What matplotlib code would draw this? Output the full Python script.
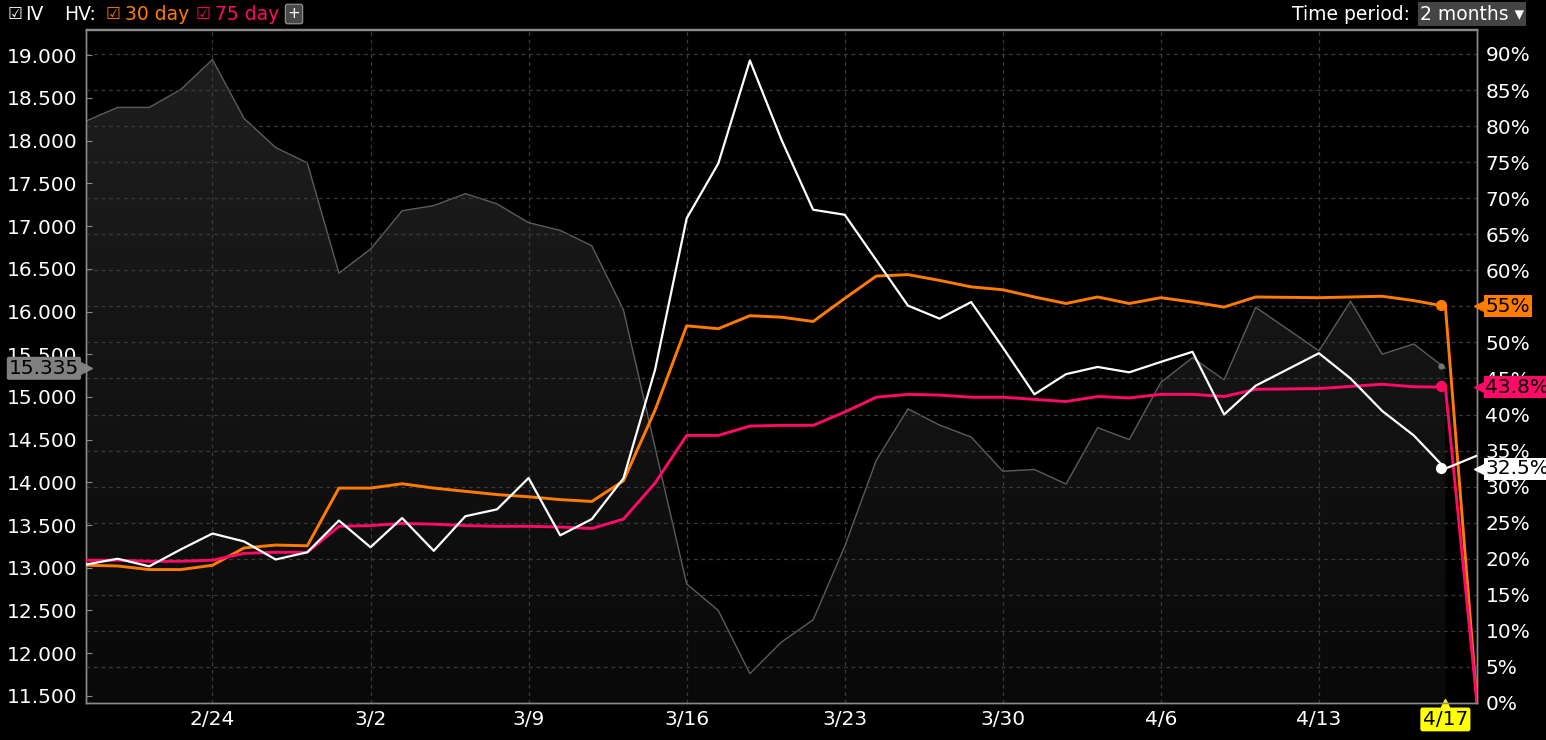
import numpy as np
import matplotlib
matplotlib.use('Agg')
from matplotlib import pyplot as plt
from matplotlib import transforms
from matplotlib.colors import LinearSegmentedColormap

# trading days shown (4/10 holiday missing), last one is the partial 4/20 point
dates = ['2020-02-18', '2020-02-19', '2020-02-20', '2020-02-21',
         '2020-02-24', '2020-02-25', '2020-02-26', '2020-02-27', '2020-02-28',
         '2020-03-02', '2020-03-03', '2020-03-04', '2020-03-05', '2020-03-06',
         '2020-03-09', '2020-03-10', '2020-03-11', '2020-03-12', '2020-03-13',
         '2020-03-16', '2020-03-17', '2020-03-18', '2020-03-19', '2020-03-20',
         '2020-03-23', '2020-03-24', '2020-03-25', '2020-03-26', '2020-03-27',
         '2020-03-30', '2020-03-31', '2020-04-01', '2020-04-02', '2020-04-03',
         '2020-04-06', '2020-04-07', '2020-04-08', '2020-04-09',
         '2020-04-13', '2020-04-14', '2020-04-15', '2020-04-16', '2020-04-17',
         '2020-04-20']

price = [18.23, 18.39, 18.39, 18.60, 18.95, 18.26, 17.92, 17.74, 16.45,
         16.73, 17.18, 17.24, 17.38, 17.26, 17.04, 16.95, 16.77, 16.02, 14.41,
         12.81, 12.50, 11.76, 12.13, 12.39, 13.25, 14.26, 14.86, 14.67, 14.53,
         14.13, 14.15, 13.98, 14.64, 14.50, 15.17, 15.46, 15.20, 16.05,
         15.54, 16.12, 15.50, 15.62, 15.335, np.nan]

iv = [19.2, 20.0, 18.95, 21.3, 23.5, 22.4, 19.9, 20.9, 25.3,
      21.6, 25.65, 21.1, 25.9, 26.85, 31.2, 23.25, 25.5, 31.15, 46.2,
      67.2, 74.8, 89.1, 78.1, 68.4, 67.7, 61.4, 55.1, 53.3, 55.6,
      49.3, 42.8, 45.6, 46.6, 45.85, 47.3, 48.7, 40.0, 44.0,
      48.5, 45.0, 40.5, 37.1, 32.5, 34.3]

hv30 = [19.1, 19.0, 18.5, 18.5, 19.1, 21.5, 21.9, 21.8, 29.8,
        29.8, 30.4, 29.8, 29.35, 28.9, 28.6, 28.2, 27.95, 30.8, 40.6,
        52.3, 51.9, 53.7, 53.5, 52.9, 56.1, 59.2, 59.4, 58.6, 57.7,
        57.3, 56.3, 55.4, 56.3, 55.4, 56.2, 55.6, 54.9, 56.3,
        56.2, 56.3, 56.4, 55.8, 55.0, 0.0]

hv75 = [19.8, 19.8, 19.65, 19.65, 19.8, 20.75, 20.9, 20.9, 24.5,
        24.6, 24.9, 24.8, 24.6, 24.5, 24.5, 24.4, 24.2, 25.5, 30.5,
        37.1, 37.1, 38.4, 38.5, 38.5, 40.35, 42.4, 42.8, 42.7, 42.4,
        42.4, 42.1, 41.8, 42.5, 42.3, 42.8, 42.8, 42.5, 43.5,
        43.6, 43.9, 44.2, 43.85, 43.8, 0.0]

week_ticks = ['2020-02-24', '2020-03-02', '2020-03-09', '2020-03-16',
              '2020-03-23', '2020-03-30', '2020-04-06', '2020-04-13']
week_labels = ['2/24', '3/2', '3/9', '3/16', '3/23', '3/30', '4/6', '4/13']
last_date, last_label = '2020-04-17', '4/17'

orange = '#ff7c00'
pink = '#ff0a66'
grid_c = '#3a3a3a'
spine_c = '#8a8a8a'
fs = 14.5

x = np.busday_count(dates[0], dates)
price = np.array(price)
ok = ~np.isnan(price)

fig = plt.figure(figsize=(15.46, 7.40), dpi=100, facecolor='black')
ax = fig.add_axes([86 / 1546, 1 - 703 / 740, (1477 - 86) / 1546, (703 - 29.5) / 740])
ax.set_facecolor('black')
ax2 = ax.twinx()
ax2.patch.set_visible(False)

ylo, yhi = 11.416, 19.302
xmax = x[-1]

# price area with vertical gradient
poly = ax.fill_between(x[ok], price[ok], ylo, color='none', lw=0)
cmap = LinearSegmentedColormap.from_list('g', ['#090909', '#1f1f1f'])
grad = np.linspace(0, 1, 256).reshape(-1, 1)
img = ax.imshow(grad, cmap=cmap, extent=[0, xmax, ylo, yhi], origin='lower',
                aspect='auto', zorder=1)
img.set_clip_path(poly.get_paths()[0], transform=ax.transData)
ax.plot(x[ok], price[ok], color='#5c5c5c', lw=1, zorder=2)
ax.plot(x[ok][-1] - 0.14, price[ok][-1] + 0.03, 'o', color='#777777', ms=3.5, zorder=3)

ax.set_xlim(0, xmax)
ax.set_ylim(ylo, yhi)
ax.set_yticks(np.arange(11.5, 19.01, 0.5))
ax.set_yticklabels([f'{v:.3f}' for v in np.arange(11.5, 19.01, 0.5)])
ax.tick_params(axis='y', direction='in', length=4, color=spine_c, labelcolor='white',
               labelsize=fs, pad=6)

ax.set_xticks(np.busday_count(dates[0], week_ticks))
ax.set_xticklabels(week_labels)
ax.set_xticks([np.busday_count(dates[0], last_date)], minor=True)
ax.set_xticklabels([last_label], minor=True)
ax.tick_params(axis='x', which='both', length=0, labelcolor='white', labelsize=fs, pad=5)
for t in ax.get_xticklabels(minor=True):
    t.set_color('black')
    t.set_bbox(dict(boxstyle='round,pad=0.12', fc='#ffff00', ec='none'))
ax.plot(np.busday_count(dates[0], last_date), ylo, marker='^', color='#ffff00', ms=6,
        clip_on=False, zorder=6)
ax.grid(True, axis='x', which='major', color=grid_c, ls=(0, (3, 3)), lw=0.9)

# IV / HV lines on the percent axis
ax2.plot(x, hv30, color=orange, lw=2.1, zorder=3)
ax2.plot(x, hv75, color=pink, lw=2.1, zorder=3)
ax2.plot(x, iv, color='white', lw=1.6, zorder=4)
ax2.set_ylim(0, 93.39)
ax2.set_yticks(np.arange(0, 91, 5))
ax2.set_yticklabels([f'{v}%' for v in range(0, 91, 5)])
ax2.tick_params(axis='y', length=0, labelcolor='white', labelsize=fs, pad=6)
ax2.grid(True, axis='y', color=grid_c, ls=(0, (3, 3)), lw=0.9)
ax2.set_axisbelow(True)

for a in (ax, ax2):
    for s in a.spines.values():
        s.set_color(spine_c)
        s.set_linewidth(1)

# end markers
xe = x[-2] - 0.14
for vals, c in ((hv30, orange), (hv75, pink), (iv, 'white')):
    ax2.plot(xe, vals[-2] + 0.15, 'o', color=c, ms=7, zorder=5)

# value tags on the right
rt = transforms.blended_transform_factory(ax2.transAxes, ax2.transData)
for v, txt, c in ((hv30[-2], '55%', orange), (hv75[-2], '43.8%', pink),
                  (iv[-2], '32.5%', 'white')):
    ax2.plot(1, v, marker='<', color=c, ms=8, clip_on=False, zorder=7,
             transform=transforms.offset_copy(rt, fig, x=3, units='dots'))
    ax2.annotate(txt, xy=(1, v), xycoords=rt, xytext=(6, 0), textcoords='offset points',
                 ha='left', va='center', fontsize=fs, color='black', zorder=8,
                 annotation_clip=False,
                 bbox=dict(boxstyle='square,pad=0.08', fc=c, ec='none'))

# value tag on the left
lt = transforms.blended_transform_factory(ax.transAxes, ax.transData)
ax.plot(0, price[ok][-1], marker='>', color='#808080', ms=8, clip_on=False, zorder=7,
        transform=transforms.offset_copy(lt, fig, x=0, units='dots'))
ax.annotate('15.335', xy=(0, price[ok][-1]), xycoords=lt, xytext=(-5, 0),
            textcoords='offset points', ha='right', va='center', fontsize=fs,
            color='black', zorder=8, annotation_clip=False,
            bbox=dict(boxstyle='round,pad=0.1', fc='#808080', ec='none'))

# header
hy = 1 - 14 / 740
hfs = 13.5
fig.text(8 / 1546, hy, '\u2611', color='white', fontsize=12, va='center')
fig.text(25 / 1546, hy, 'IV', color='white', fontsize=hfs, va='center')
fig.text(64 / 1546, hy, 'HV:', color='white', fontsize=hfs, va='center')
fig.text(106 / 1546, hy, '\u2611', color=orange, fontsize=12, va='center')
fig.text(125 / 1546, hy, '30 day', color=orange, fontsize=hfs, va='center')
fig.text(196 / 1546, hy, '\u2611', color=pink, fontsize=12, va='center')
fig.text(215 / 1546, hy, '75 day', color=pink, fontsize=hfs, va='center')
fig.text(294 / 1546, hy, '+', color='white', fontsize=11, va='center', ha='center',
         bbox=dict(boxstyle='round,pad=0.15', fc='#4a4a4a', ec='#9a9a9a', lw=0.8))
fig.text(1292 / 1546, hy, 'Time period:', color='white', fontsize=hfs, va='center')
fig.text(1420 / 1546, hy, '2 months \u25be', color='white', fontsize=hfs, va='center',
         bbox=dict(boxstyle='square,pad=0.12', fc='#444444', ec='none'))

fig.savefig('out.png', dpi=100, facecolor='black')
